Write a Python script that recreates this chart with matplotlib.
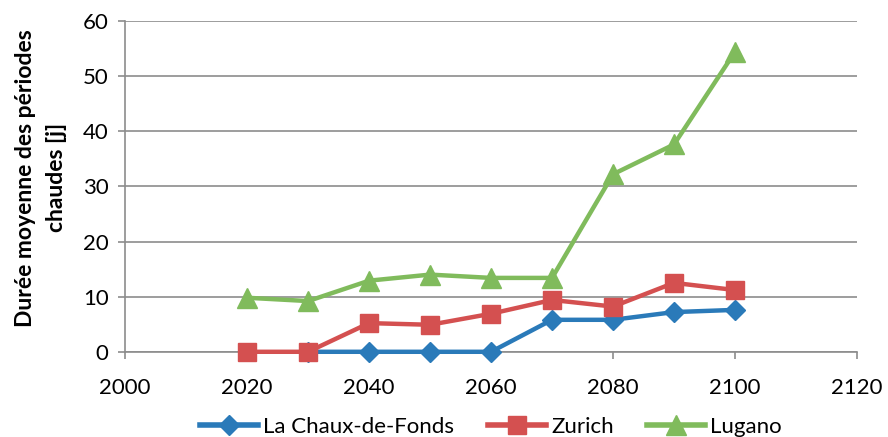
import matplotlib
matplotlib.use("Agg")
import matplotlib.pyplot as plt
import numpy as np

years = [2020, 2030, 2040, 2050, 2060, 2070, 2080, 2090, 2100]
chaux = [np.nan, 0, 0, 0, 0, 5.8, 5.8, 7.2, 7.6]
zurich = [0, 0, 5.2, 4.9, 6.9, 9.4, 8.2, 12.5, 11.2]
lugano = [9.8, 9.2, 12.9, 14.0, 13.4, 13.4, 32.2, 37.6, 54.4]
xticks = [2000, 2020, 2040, 2060, 2080, 2100, 2120]
yticks = [0, 10, 20, 30, 40, 50, 60]
ylabel_lines = ['Durée moyenne des périodes', 'chaudes [j]']

plt.rcParams['font.family'] = ['Lato', 'DejaVu Sans']

fig = plt.figure(figsize=(8.88, 4.37), dpi=100)
ax = fig.add_axes([0.141, 0.195, 0.824, 0.757])

ax.plot(years, chaux, color='#2a7ab9', lw=3.2, marker='D', ms=10, label='La Chaux-de-Fonds',
        zorder=3, clip_on=False)
ax.plot(years, zurich, color='#d45050', lw=3.2, marker='s', ms=13, label='Zurich',
        zorder=4, clip_on=False)
ax.plot(years, lugano, color='#80bb5c', lw=3.2, marker='^', ms=14, label='Lugano',
        zorder=5, clip_on=False)

ax.set_xlim(2000, 2120)
ax.set_ylim(0, 60)
ax.set_xticks(xticks)
ax.set_yticks(yticks)
ax.grid(axis='y', color='#8c8c8c', lw=1.2)
ax.set_axisbelow(True)
for s in ['top', 'right']:
    ax.spines[s].set_visible(False)
for s in ['left', 'bottom']:
    ax.spines[s].set_color('#8c8c8c')
    ax.spines[s].set_linewidth(1.2)
ax.tick_params(axis='both', colors='#8c8c8c', length=5, width=1.2, labelsize=16, labelcolor='black')
ax.tick_params(axis='x', pad=14)
ax.tick_params(axis='y', pad=7)

fig.text(0.029, 0.593, ylabel_lines[0], rotation=90, ha='center', va='center',
         fontsize=16.5, fontweight='bold')
fig.text(0.064, 0.593, ylabel_lines[1], rotation=90, ha='center', va='center',
         fontsize=16.5, fontweight='bold')

leg = ax.legend(loc='center', bbox_to_anchor=(0.5, -0.227), ncol=3, frameon=False,
                fontsize=16, handlelength=2.6, columnspacing=1.5, handletextpad=0.25)
for h in leg.get_lines():
    h.set_linewidth(4)

fig.savefig('out.png', dpi=100)
